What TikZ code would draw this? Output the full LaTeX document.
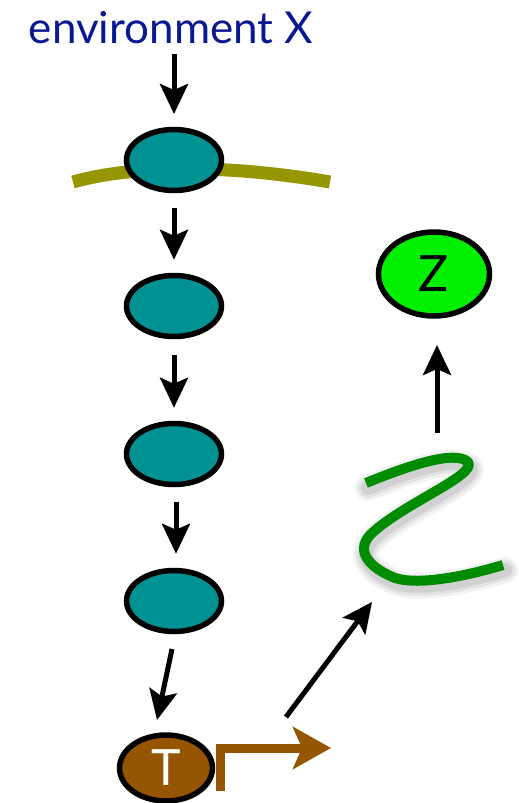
\documentclass[tikz,border=0pt]{standalone}
\usepackage{fontspec}
\setmainfont{Lato}
\usetikzlibrary{shapes.geometric,arrows.meta}
\definecolor{envblue}{RGB}{10,25,145}
\definecolor{teal}{RGB}{0,146,146}
\definecolor{olive}{RGB}{150,150,0}
\definecolor{zgreen}{RGB}{0,240,0}
\definecolor{tbrown}{RGB}{150,85,0}
\definecolor{squig}{RGB}{0,140,0}
\tikzset{
  cell/.style={ellipse, draw=black, line width=5.5pt, fill=teal, minimum width=95pt, minimum height=61pt, inner sep=0pt},
  link/.style={line width=5pt, -{Stealth[length=30pt,width=28pt,inset=6pt]}},
}
\begin{document}
\begin{tikzpicture}[x=1pt,y=-1pt]
\useasboundingbox (0,0) rectangle (519,803);
\fill[white] (0,0) rectangle (519,803);

% membrane behind the first cell
\draw[olive, line width=13pt] (73,182) .. controls (130,166) and (220,163) .. (330,182);

\node[text=envblue, font=\fontsize{44}{48}\selectfont] (env) at (171,28) {environment X};

\node[cell] (c1) at (174,160) {};
\node[cell] (c2) at (174,306) {};
\node[cell] (c3) at (174,454) {};
\node[cell] (c4) at (174,601) {};
\node[ellipse, draw=black, line width=5.5pt, fill=tbrown, minimum width=93pt, minimum height=66pt, inner sep=0pt,
      text=white, font=\fontsize{50}{50}\selectfont] (t) at (166,768) {T};
\node[ellipse, draw=black, line width=5.5pt, fill=zgreen, minimum width=111pt, minimum height=84pt, inner sep=0pt,
      font=\fontsize{50}{50}\selectfont] (z) at (434,274) {Z};

% response curve with a soft shadow
\coordinate (q0) at (366,483);
\foreach \w/\o in {26/0.05,20/0.06,14/0.08}{
  \draw[black, opacity=\o, line width=\w pt, line cap=round, line join=round, xshift=2pt, yshift=-5pt]
    (366,483) .. controls (410,465) and (455,450) .. (468,462)
    .. controls (478,475) and (400,505) .. (370,535)
    .. controls (355,552) and (370,568) .. (395,578)
    .. controls (420,586) and (470,575) .. (503,565);
}
\draw[squig, line width=10pt, line join=round]
    (q0) .. controls (410,465) and (455,450) .. (468,462)
    .. controls (478,475) and (400,505) .. (370,535)
    .. controls (355,552) and (370,568) .. (395,578)
    .. controls (420,586) and (470,575) .. (503,565) coordinate (q1);

\coordinate (a0) at (174,54);
\coordinate (a1) at (174,114);
\draw[link] (a0) -- (a1);
\draw[link] ([yshift=-15pt]c1.south) -- ([yshift=13pt]c2.north);
\draw[link] ([yshift=-16pt]c2.south) -- ([yshift=13pt]c3.north);
\draw[link] ([xshift=2pt,yshift=-15pt]c3.south) -- ([xshift=2pt,yshift=14pt]c4.north);
\coordinate (b0) at (172,649);
\coordinate (b1) at (157,720);
\draw[link] (b0) -- (b1);
\coordinate (d0) at (286,717);
\coordinate (d1) at (372,602);
\draw[link] (d0) -- (d1);
\coordinate (u0) at (437,433);
\coordinate (u1) at (437,345);
\draw[link] (u0) -- (u1);

% outgoing signal from T
\coordinate (s0) at (220,791);
\coordinate (s1) at (220,748);
\coordinate (s2) at (331,748);
\draw[tbrown, line width=9pt, -{Stealth[length=38pt,width=42pt,inset=9pt]}] (s0) -- (s1) -- (s2);
\end{tikzpicture}
\end{document}
